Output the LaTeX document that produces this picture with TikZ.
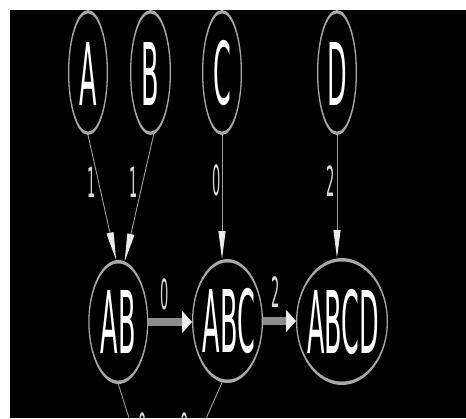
\documentclass[tikz,border=0pt]{standalone}
\usepackage{fontspec}
\setmainfont{DejaVu Sans}
\usepackage{graphicx}
\usetikzlibrary{shapes.geometric,arrows.meta}

\definecolor{ringgray}{gray}{0.66}
\definecolor{wiregray}{gray}{0.62}
\definecolor{shaftgray}{gray}{0.55}
\definecolor{tipwhite}{gray}{0.92}
\definecolor{weightgray}{gray}{0.85}

% tall, narrow lettering
\newcommand{\tallname}[1]{\scalebox{1}[3.39]{#1}}
\newcommand{\tallweight}[1]{\scalebox{1}[3.2]{#1}}

\tikzset{
  % ellipse with thin sides and thick top/bottom rim: radii in pt
  state/.style n args={2}{ellipse, inner sep=0pt, outer sep=0pt, draw=none,
    fill=ringgray, minimum width={2*#1pt}, minimum height={2*#2pt},
    path picture={\fill[black] (path picture bounding box.center)
      ellipse [x radius={#1pt-1.3pt}, y radius={#2pt-3.5pt}];}},
  statetext/.style={text=white, inner sep=0pt, font=\fontsize{25.5}{26}\selectfont},
  weight/.style={text=weightgray, inner sep=0pt, font=\fontsize{13}{14}\selectfont},
  wire/.style={draw=wiregray, line width=0.9pt,
    -{Triangle[length=28pt,width=7pt,color=tipwhite]}},
  pipe/.style={draw=shaftgray, line width=8pt,
    -{Triangle[length=10pt,width=22pt,color=tipwhite]}},
}

\begin{document}
\begin{tikzpicture}[x=1pt,y=-1pt]
\useasboundingbox (0,0) rectangle (466,418);
\fill[white] (0,0) rectangle (466,418);
\fill[black] (10,10) rectangle (466,418);

\begin{scope}
\clip (10,10) rectangle (466,418);

% single-letter sets
\node[state={20}{62.5}]   (A) at (88,72.5)  {};
\node[state={20.5}{62.5}] (B) at (150.5,72.5) {};
\node[state={20}{62.5}]   (C) at (222,72.5) {};
\node[state={20}{62.5}]   (D) at (337,72.5) {};
\node[statetext] (tA) at (88,73.5)    {\tallname{A}};
\node[statetext] (tB) at (150.5,73.5) {\tallname{B}};
\node[statetext] (tC) at (222,73.5)   {\tallname{C}};
\node[statetext] (tD) at (337,73.5)   {\tallname{D}};

% merged sets
\node[state={30}{62}]     (AB)   at (118.3,322) {};
\node[state={35.5}{62}]   (ABC)  at (227.5,321) {};
\node[state={46}{63.5}]   (ABCD) at (342,321.5) {};
\node[statetext] (tAB)   at (118.3,321.5) {\tallname{AB}};
\node[statetext] (tABC)  at (229,321.5)   {\tallname{ABC}};
\node[statetext] (tABCD) at (343,322.5)   {\tallname{ABCD}};

% lower merge point
\coordinate (sink) at (161,520);

% connectors
\draw[wire] (A.south) -- (AB.92);
\draw[wire] (B.-87) -- (AB.84);
\draw[wire] (C.south) -- (C.south |- ABC.north);
\draw[wire] (D.south) -- (D.south |- ABCD.north);
\draw[pipe] (AB.east) -- (AB.east -| ABC.west);
\draw[pipe] (ABC.east) -- (ABC.east -| ABCD.west);
\draw[wire] (AB.south) -- (sink);
\draw[wire] (ABC.-95) -- (sink);

% weights
\node[weight] (w1) at (92,182)     {\tallweight{1}};
\node[weight] (w2) at (133.5,182)  {\tallweight{1}};
\node[weight] (w3) at (216.5,180)  {\tallweight{0}};
\node[weight] (w4) at (330.5,181)  {\tallweight{2}};
\node[weight] (w5) at (165,294)    {\tallweight{0}};
\node[weight] (w6) at (275.5,292.5){\tallweight{2}};
\node[weight] (w7) at (143,428)    {\tallweight{0}};
\node[weight] (w8) at (185,428)    {\tallweight{0}};
\end{scope}
\end{tikzpicture}
\end{document}
